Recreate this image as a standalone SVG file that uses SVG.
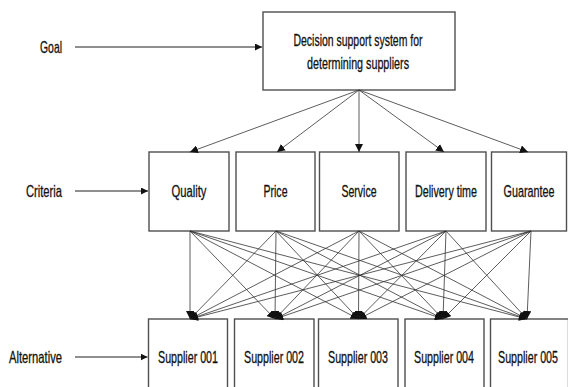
<svg xmlns="http://www.w3.org/2000/svg" width="568" height="387" viewBox="0 0 568 387">
  <style>
    .box { fill: #ffffff; stroke: #4f4f4f; stroke-width: 1.4; }
    .lbl, .side { font-family: "Liberation Sans", Arial, sans-serif; font-size: 16.5px; fill: #111111; stroke: #111111; stroke-width: 0.3; dominant-baseline: central; }
    .lbl { text-anchor: middle; }
    .side { text-anchor: end; }
    .edge { stroke: #333333; stroke-width: 0.8; fill: none; marker-end: url(#tip); }
    .pointer { stroke: #6a6a6a; stroke-width: 1.3; fill: none; marker-end: url(#tipB); }
  </style>
  <defs>
    <marker id="tip" viewBox="0 0 10 10" refX="10" refY="5" markerWidth="8" markerHeight="8" markerUnits="userSpaceOnUse" orient="auto">
      <path d="M0,0 L10,5 L0,10 z" fill="#111"/>
    </marker>
    <marker id="tipB" viewBox="0 0 10 10" refX="10" refY="5" markerWidth="7" markerHeight="7" markerUnits="userSpaceOnUse" orient="auto">
      <path d="M0,0 L10,5 L0,10 z" fill="#111"/>
    </marker>
  </defs>
  <rect width="568" height="387" fill="#ffffff"/>

  <!-- level labels -->
  <g id="level-labels">
    <text class="side" x="62" y="47" textLength="22" lengthAdjust="spacingAndGlyphs">Goal</text>
    <text class="side" x="62" y="191" textLength="36" lengthAdjust="spacingAndGlyphs">Criteria</text>
    <text class="side" x="62" y="357" textLength="53" lengthAdjust="spacingAndGlyphs">Alternative</text>
  </g>

  <!-- goal node -->
  <g id="goal">
    <rect class="box" x="263" y="12" width="192" height="78"/>
    <text class="lbl" x="358" y="40" textLength="129" lengthAdjust="spacingAndGlyphs">Decision support system for</text>
    <text class="lbl" x="358" y="63" textLength="102" lengthAdjust="spacingAndGlyphs">determining suppliers</text>
  </g>

  <!-- criteria nodes -->
  <g id="quality">
    <rect class="box" x="149" y="152" width="80" height="79"/>
    <text class="lbl" x="189" y="191" textLength="35" lengthAdjust="spacingAndGlyphs">Quality</text>
  </g>
  <g id="price">
    <rect class="box" x="236" y="152" width="79" height="79"/>
    <text class="lbl" x="275.5" y="191" textLength="24" lengthAdjust="spacingAndGlyphs">Price</text>
  </g>
  <g id="service">
    <rect class="box" x="319.5" y="152" width="79.5" height="79"/>
    <text class="lbl" x="359" y="191" textLength="35" lengthAdjust="spacingAndGlyphs">Service</text>
  </g>
  <g id="delivery-time">
    <rect class="box" x="406" y="152" width="80" height="79"/>
    <text class="lbl" x="446" y="191" textLength="62" lengthAdjust="spacingAndGlyphs">Delivery time</text>
  </g>
  <g id="guarantee">
    <rect class="box" x="491.5" y="152" width="75" height="79"/>
    <!-- condensed horizontally so the label fits the narrow edge box -->
    <text class="lbl" transform="translate(529 191) scale(0.654 1)" x="0" y="0">Guarantee</text>
  </g>

  <!-- alternative nodes -->
  <g id="supplier-001">
    <rect class="box" x="148.5" y="319" width="79" height="80"/>
    <text class="lbl" x="188" y="357" textLength="60" lengthAdjust="spacingAndGlyphs">Supplier 001</text>
  </g>
  <g id="supplier-002">
    <rect class="box" x="234.5" y="319" width="79.5" height="80"/>
    <text class="lbl" x="274" y="357" textLength="60" lengthAdjust="spacingAndGlyphs">Supplier 002</text>
  </g>
  <g id="supplier-003">
    <rect class="box" x="318.5" y="319" width="79.5" height="80"/>
    <text class="lbl" x="358" y="357" textLength="60" lengthAdjust="spacingAndGlyphs">Supplier 003</text>
  </g>
  <g id="supplier-004">
    <rect class="box" x="405" y="319" width="79" height="80"/>
    <text class="lbl" x="444" y="357" textLength="60" lengthAdjust="spacingAndGlyphs">Supplier 004</text>
  </g>
  <g id="supplier-005">
    <rect class="box" x="490.5" y="319" width="78" height="80"/>
    <text class="lbl" transform="translate(528 357) scale(0.648 1)" x="0" y="0">Supplier 005</text>
  </g>

  <!-- connectors -->
  <g id="connectors">
    <line class="pointer" x1="75" y1="47" x2="262" y2="47"/>
    <line class="pointer" x1="75" y1="191" x2="148" y2="191"/>
    <line class="pointer" x1="75" y1="357" x2="147.5" y2="357"/>

    <line class="edge" x1="359" y1="90" x2="190" y2="152"/>
    <line class="edge" x1="359" y1="90" x2="277" y2="152"/>
    <line class="edge" x1="359" y1="90" x2="359" y2="152"/>
    <line class="edge" x1="359" y1="90" x2="444" y2="152"/>
    <line class="edge" x1="359" y1="90" x2="528" y2="152"/>

    <line class="edge" x1="190" y1="231" x2="190" y2="319"/>
    <line class="edge" x1="190" y1="231" x2="275" y2="319"/>
    <line class="edge" x1="190" y1="231" x2="358.5" y2="319"/>
    <line class="edge" x1="190" y1="231" x2="443" y2="319"/>
    <line class="edge" x1="190" y1="231" x2="527" y2="319"/>

    <line class="edge" x1="276" y1="231" x2="190" y2="319"/>
    <line class="edge" x1="276" y1="231" x2="275" y2="319"/>
    <line class="edge" x1="276" y1="231" x2="358.5" y2="319"/>
    <line class="edge" x1="276" y1="231" x2="443" y2="319"/>
    <line class="edge" x1="276" y1="231" x2="527" y2="319"/>

    <line class="edge" x1="359" y1="231" x2="190" y2="319"/>
    <line class="edge" x1="359" y1="231" x2="275" y2="319"/>
    <line class="edge" x1="359" y1="231" x2="358.5" y2="319"/>
    <line class="edge" x1="359" y1="231" x2="443" y2="319"/>
    <line class="edge" x1="359" y1="231" x2="527" y2="319"/>

    <line class="edge" x1="446" y1="231" x2="190" y2="319"/>
    <line class="edge" x1="446" y1="231" x2="275" y2="319"/>
    <line class="edge" x1="446" y1="231" x2="358.5" y2="319"/>
    <line class="edge" x1="446" y1="231" x2="443" y2="319"/>
    <line class="edge" x1="446" y1="231" x2="527" y2="319"/>

    <line class="edge" x1="531" y1="231" x2="190" y2="319"/>
    <line class="edge" x1="531" y1="231" x2="275" y2="319"/>
    <line class="edge" x1="531" y1="231" x2="358.5" y2="319"/>
    <line class="edge" x1="531" y1="231" x2="443" y2="319"/>
    <line class="edge" x1="531" y1="231" x2="527" y2="319"/>
  </g>
</svg>
